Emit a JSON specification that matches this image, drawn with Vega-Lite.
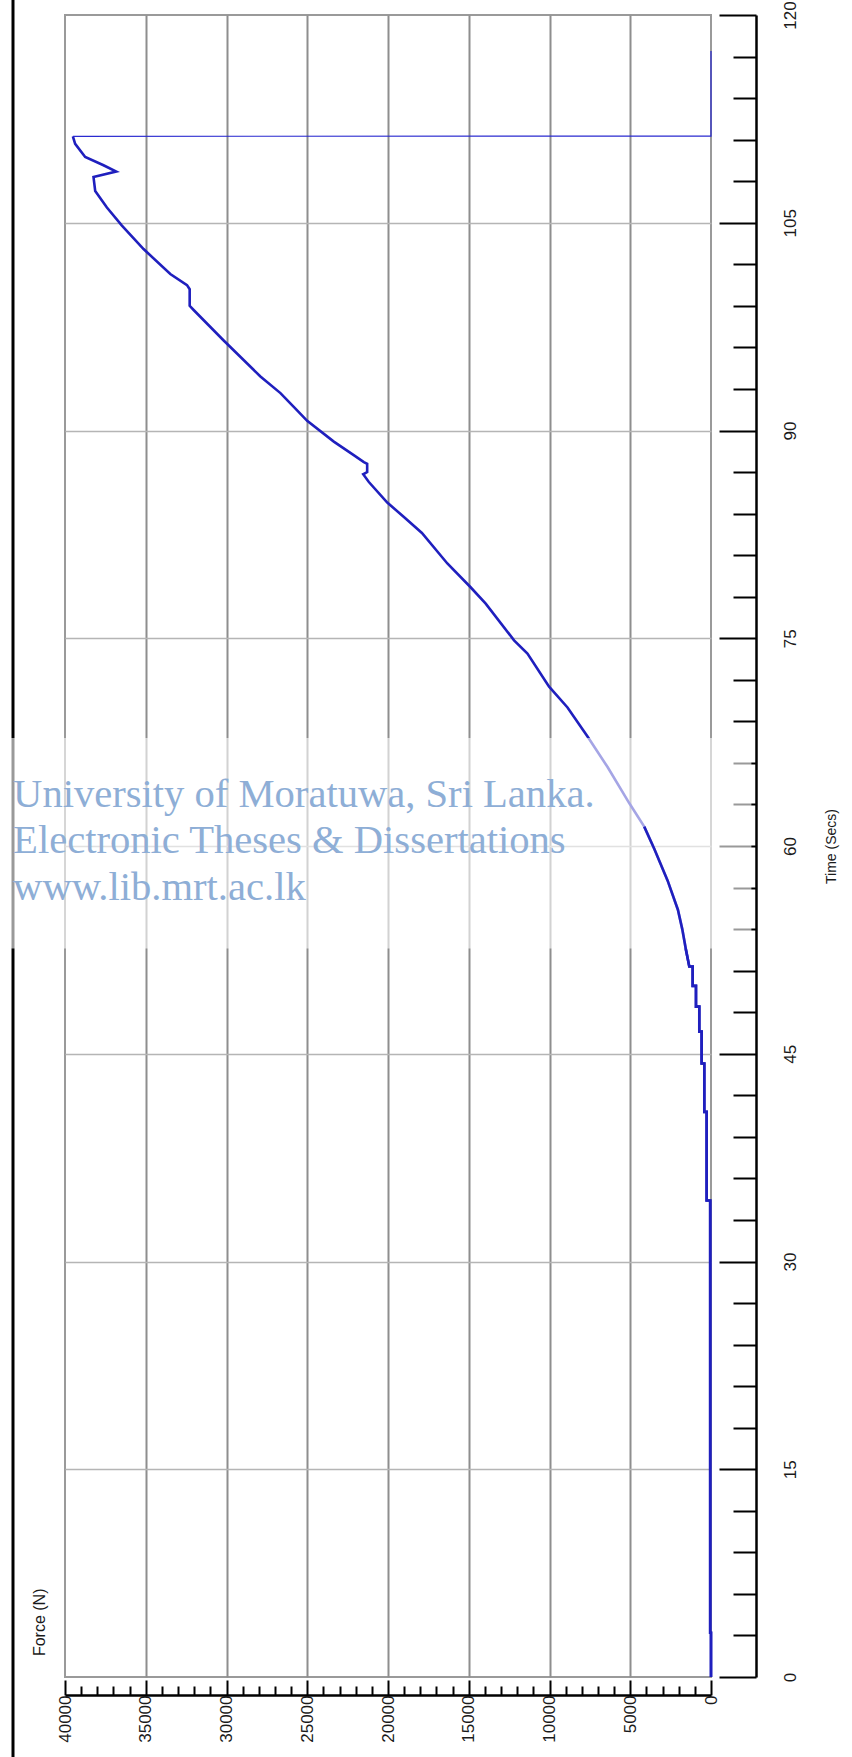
{
  "$schema": "https://vega.github.io/schema/vega-lite/v6.json",
  "width": 646,
  "height": 1662,
  "autosize": {"type": "none"},
  "padding": {"left": 65, "top": 15, "right": 141, "bottom": 80},
  "background": "white",
  "config": {
    "view": {"stroke": "#9a9a9a", "strokeWidth": 2},
    "axis": {"labelFont": "Liberation Sans Narrow, Arial Narrow, sans-serif", "titleFont": "Liberation Sans Narrow, Arial Narrow, sans-serif", "labelColor": "#1a1a1a", "titleColor": "#1a1a1a", "tickCap": "butt"}
  },
  "datasets": {
    "curve": [
      {"i": 1, "t": 0, "f": 0}, {"i": 2, "t": 3.2, "f": 0}, {"i": 3, "t": 3.2, "f": 50},
      {"i": 4, "t": 34.4, "f": 50}, {"i": 5, "t": 34.4, "f": 270}, {"i": 6, "t": 40.8, "f": 270},
      {"i": 7, "t": 40.8, "f": 415}, {"i": 8, "t": 44.3, "f": 415}, {"i": 9, "t": 44.3, "f": 580},
      {"i": 10, "t": 46.6, "f": 580}, {"i": 11, "t": 46.6, "f": 725}, {"i": 12, "t": 48.4, "f": 725},
      {"i": 13, "t": 48.4, "f": 930}, {"i": 14, "t": 49.9, "f": 930}, {"i": 15, "t": 49.9, "f": 1135},
      {"i": 16, "t": 51.3, "f": 1135}, {"i": 17, "t": 51.3, "f": 1345}, {"i": 18, "t": 52.5, "f": 1550},
      {"i": 18.5, "t": 54.0, "f": 1780},
      {"i": 19, "t": 55.4, "f": 2050}, {"i": 20, "t": 57.5, "f": 2685}, {"i": 21, "t": 59.8, "f": 3515},
      {"i": 22, "t": 61.4, "f": 4135}, {"i": 23, "t": 63.1, "f": 5065}, {"i": 24, "t": 65.7, "f": 6405},
      {"i": 25, "t": 67.9, "f": 7645}, {"i": 26, "t": 70.0, "f": 8885}, {"i": 27, "t": 71.5, "f": 10025},
      {"i": 28, "t": 73.9, "f": 11365}, {"i": 29, "t": 74.85, "f": 12195}, {"i": 30, "t": 77.5, "f": 13950},
      {"i": 31, "t": 78.7, "f": 14900}, {"i": 32, "t": 80.4, "f": 16325}, {"i": 33, "t": 82.6, "f": 17900},
      {"i": 34, "t": 83.75, "f": 19015}, {"i": 35, "t": 84.8, "f": 20045}, {"i": 36, "t": 86.28, "f": 21185},
      {"i": 37, "t": 86.84, "f": 21535}, {"i": 38, "t": 87.0, "f": 21290}, {"i": 39, "t": 87.6, "f": 21290},
      {"i": 40, "t": 87.72, "f": 21495}, {"i": 41, "t": 88.2, "f": 22100}, {"i": 42, "t": 89.2, "f": 23355},
      {"i": 43, "t": 90.7, "f": 25005}, {"i": 44, "t": 91.7, "f": 25835}, {"i": 45, "t": 92.7, "f": 26660},
      {"i": 46, "t": 93.9, "f": 27900}, {"i": 47, "t": 96.5, "f": 30175}, {"i": 48, "t": 98.7, "f": 32035},
      {"i": 49, "t": 99.0, "f": 32280}, {"i": 50, "t": 100.2, "f": 32280}, {"i": 51, "t": 100.5, "f": 32445},
      {"i": 52, "t": 101.3, "f": 33480}, {"i": 53, "t": 103.1, "f": 35135}, {"i": 54, "t": 104.8, "f": 36475},
      {"i": 55, "t": 106.1, "f": 37405}, {"i": 56, "t": 107.3, "f": 38130}, {"i": 57, "t": 108.3, "f": 38235},
      {"i": 58, "t": 108.7, "f": 36830}, {"i": 59, "t": 109.15, "f": 37615}, {"i": 60, "t": 109.75, "f": 38750},
      {"i": 61, "t": 110.7, "f": 39370}, {"i": 62, "t": 111.24, "f": 39513}, {"i": 63, "t": 111.26, "f": 0},
      {"i": 64, "t": 117.4, "f": 0}
    ],
    "border": [{"f": 43220, "t0": -6, "t1": 121.2}],
    "box": [{"f0": 44100, "f1": -2500, "t0": 52.6, "t1": 67.8}],
    "watermark": [
      {"txt": "University of Moratuwa, Sri Lanka.", "f": 43214, "t": 62.8},
      {"txt": "Electronic Theses & Dissertations", "f": 43214, "t": 59.47},
      {"txt": "www.lib.mrt.ac.lk", "f": 43214, "t": 56.08}
    ],
    "ytitle": [{"txt": "Force (N)", "f": 41520, "t": 3.95}]
  },
  "resolve": {"axis": {"x": "independent", "y": "independent"}},
  "layer": [
    {
      "data": {"name": "border"},
      "mark": {"type": "rule", "color": "black", "strokeWidth": 3, "clip": false},
      "encoding": {
        "x": {"field": "f", "type": "quantitative", "scale": {"domain": [0, 40000], "reverse": true, "nice": false, "zero": false},
          "axis": {"orient": "bottom", "values": [5000, 10000, 15000, 20000, 25000, 30000, 35000], "grid": true, "gridColor": "#8e8e8e", "gridWidth": 2, "ticks": false, "labels": false, "domain": false, "title": null}},
        "y": {"field": "t0", "type": "quantitative", "scale": {"domain": [0, 120], "nice": false, "zero": false},
          "axis": {"orient": "right", "values": [15, 30, 45, 60, 75, 90, 105], "grid": true, "gridColor": "#b5b5b5", "gridWidth": 1.5, "ticks": false, "labels": false, "domain": false, "title": null}},
        "y2": {"field": "t1"}
      }
    },
    {
      "data": {"name": "curve"},
      "transform": [{"filter": "datum.i <= 62"}],
      "mark": {"type": "line", "color": "#1f1fbe", "strokeWidth": 2.6, "clip": false},
      "encoding": {
        "x": {"field": "f", "type": "quantitative", "scale": {"domain": [0, 40000], "reverse": true, "nice": false, "zero": false},
          "axis": {"orient": "bottom", "offset": 18, "values": [0, 5000, 10000, 15000, 20000, 25000, 30000, 35000, 40000], "format": "d", "ticks": false, "tickSize": 0, "grid": false, "domain": true, "domainColor": "black", "domainWidth": 2.5, "labelAngle": -90, "labelAlign": "right", "labelBaseline": "middle", "labelPadding": 0, "labelFontSize": 17, "labelFlush": false, "labelOverlap": false, "labelBound": false, "title": null}},
        "y": {"field": "t", "type": "quantitative", "scale": {"domain": [0, 120], "nice": false, "zero": false},
          "axis": {"orient": "right", "offset": 45, "values": [0, 15, 30, 45, 60, 75, 90, 105, 120], "ticks": false, "tickSize": 0, "grid": false, "domain": true, "domainColor": "black", "domainWidth": 2.5, "labelAngle": -90, "labelAlign": "center", "labelBaseline": "top", "labelPadding": 26, "labelFontSize": 17, "labelFlush": false, "labelOverlap": false, "labelBound": false,
            "title": "Time (Secs)", "titleAngle": 270, "titleAlign": "center", "titleBaseline": "top", "titleFontSize": 14, "titleFontWeight": "normal", "titlePadding": 26}},
        "order": {"field": "i", "type": "quantitative"}
      }
    },
    {
      "data": {"name": "curve"},
      "transform": [{"filter": "datum.i >= 62"}],
      "mark": {"type": "line", "color": "#2a2ad0", "strokeWidth": 1.2, "clip": false},
      "encoding": {
        "x": {"field": "f", "type": "quantitative", "axis": null},
        "y": {"field": "t", "type": "quantitative", "axis": null},
        "order": {"field": "i", "type": "quantitative"}
      }
    },
    {
      "data": {"name": "box"},
      "mark": {"type": "rect", "fill": "white", "opacity": 0.6, "clip": false},
      "encoding": {
        "x": {"field": "f0", "type": "quantitative", "scale": {"domain": [0, 40000], "reverse": true, "nice": false, "zero": false},
          "axis": {"orient": "bottom", "offset": 18, "values": [0, 5000, 10000, 15000, 20000, 25000, 30000, 35000, 40000], "ticks": true, "tickSize": -15, "tickWidth": 2, "tickColor": "black", "labels": false, "domain": false, "grid": false, "title": null}},
        "x2": {"field": "f1"},
        "y": {"field": "t0", "type": "quantitative", "scale": {"domain": [0, 120], "nice": false, "zero": false},
          "axis": {"orient": "right", "offset": 45, "values": [0, 15, 30, 45, 60, 75, 90, 105, 120], "ticks": true, "tickSize": -37, "tickWidth": 2, "tickColor": "black", "labels": false, "domain": false, "grid": false, "title": null}},
        "y2": {"field": "t1"}
      }
    },
    {
      "data": {"name": "curve"},
      "transform": [{"filter": "datum.t <= 61.4"}],
      "mark": {"type": "line", "color": "#1f1fbe", "strokeWidth": 2.6, "clip": false},
      "encoding": {
        "x": {"field": "f", "type": "quantitative", "axis": null},
        "y": {"field": "t", "type": "quantitative", "axis": null},
        "order": {"field": "i", "type": "quantitative"}
      }
    },
    {
      "data": {"name": "watermark"},
      "mark": {"type": "text", "align": "left", "baseline": "alphabetic", "font": "Liberation Serif, Times New Roman, serif", "fontSize": 40.6, "color": "#8eaed6", "clip": false},
      "encoding": {
        "x": {"field": "f", "type": "quantitative", "scale": {"domain": [0, 40000], "reverse": true, "nice": false, "zero": false},
          "axis": {"orient": "bottom", "offset": 18, "values": [1000, 2000, 3000, 4000, 6000, 7000, 8000, 9000, 11000, 12000, 13000, 14000, 16000, 17000, 18000, 19000, 21000, 22000, 23000, 24000, 26000, 27000, 28000, 29000, 31000, 32000, 33000, 34000, 36000, 37000, 38000, 39000], "ticks": true, "tickSize": -9, "tickWidth": 2, "tickColor": "black", "labels": false, "domain": false, "grid": false, "title": null}},
        "y": {"field": "t", "type": "quantitative", "scale": {"domain": [0, 120], "nice": false, "zero": false},
          "axis": {"orient": "right", "offset": 45, "values": [3, 6, 9, 12, 18, 21, 24, 27, 33, 36, 39, 42, 48, 51, 54, 57, 63, 66, 69, 72, 78, 81, 84, 87, 93, 96, 99, 102, 108, 111, 114, 117], "ticks": true, "tickSize": -23, "tickWidth": 2, "tickColor": "black", "labels": false, "domain": false, "grid": false, "title": null}},
        "text": {"field": "txt", "type": "nominal"}
      }
    },
    {
      "data": {"name": "ytitle"},
      "mark": {"type": "text", "angle": 270, "align": "center", "baseline": "middle", "font": "Liberation Sans Narrow, Arial Narrow, sans-serif", "fontSize": 16, "color": "#1a1a1a", "clip": false},
      "encoding": {
        "x": {"field": "f", "type": "quantitative", "axis": null},
        "y": {"field": "t", "type": "quantitative", "axis": null},
        "text": {"field": "txt", "type": "nominal"}
      }
    }
  ]
}
